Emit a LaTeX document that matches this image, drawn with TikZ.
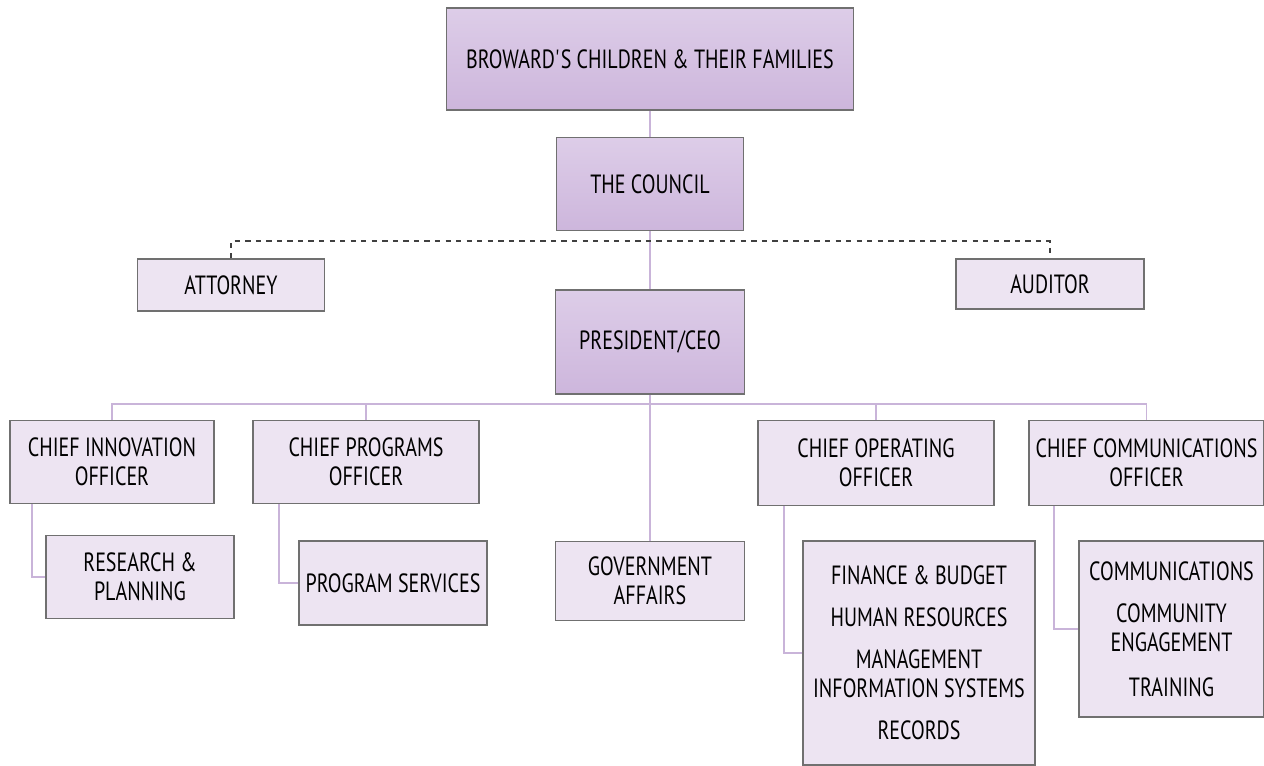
\documentclass[tikz,border=0pt]{standalone}
\usepackage{fontspec}
\setmainfont{PT Sans}[FakeStretch=0.76]
\usetikzlibrary{positioning}

\definecolor{boxline}{HTML}{707070}
\definecolor{boxfill}{HTML}{EDE4F2}
\definecolor{headtop}{HTML}{DDCDE8}
\definecolor{headbot}{HTML}{CDB6DC}
\definecolor{linkcol}{HTML}{C9B4D9}
\definecolor{dashcol}{HTML}{404040}

\tikzstyle{s} = [rectangle, draw=boxline, line width=0.7pt, fill=boxfill, text centered, align=center, inner sep=1pt, font=\fontsize{15}{16.5}\selectfont]
\tikzstyle{head} = [s, top color=headtop, bottom color=headbot]
\tikzstyle{link} = [draw=linkcol, line width=0.9pt]

\begin{document}
\begin{tikzpicture}[x=0.02cm, y=-0.02cm]
\useasboundingbox (0,0) rectangle (1264,766);

\node[head, minimum width=8.14cm, minimum height=2.04cm] (Families) at (650,59) {BROWARD\textquotesingle S CHILDREN \& THEIR FAMILIES};
\node[head, minimum width=3.74cm, minimum height=1.86cm] (Council) at (650,184) {THE COUNCIL};
\node[s, minimum width=3.74cm, minimum height=1.04cm] (Attorney) at (231,285) {ATTORNEY};
\node[s, minimum width=3.76cm, minimum height=1.0cm] (Auditor) at (1050,284) {AUDITOR};
\node[head, minimum width=3.78cm, minimum height=2.08cm] (CEO) at (650,342) {PRESIDENT/CEO};

\node[s, minimum width=4.08cm, minimum height=1.66cm] (CIO) at (112,462) {CHIEF INNOVATION\\OFFICER};
\node[s, minimum width=4.52cm, minimum height=1.66cm] (CPO) at (366,462) {CHIEF PROGRAMS\\OFFICER};
\node[s, minimum width=4.72cm, minimum height=1.70cm] (COO) at (876,463) {CHIEF OPERATING\\OFFICER};
\node[s, minimum width=4.70cm, minimum height=1.70cm] (CCO) at (1146.5,463) {CHIEF COMMUNICATIONS\\OFFICER};

\node[s, minimum width=3.76cm, minimum height=1.66cm] (Research) at (140,577) {RESEARCH \&\\PLANNING};
\node[s, minimum width=3.76cm, minimum height=1.68cm] (Programs) at (393,583) {PROGRAM SERVICES};
\node[s, minimum width=3.78cm, minimum height=1.58cm] (Gov) at (650,581) {GOVERNMENT\\AFFAIRS};
\node[s, minimum width=4.64cm, minimum height=4.48cm] (Operations) at (919,653)
  {FINANCE \& BUDGET\\[7.5pt] HUMAN RESOURCES\\[7.5pt] MANAGEMENT\\INFORMATION SYSTEMS\\[7.5pt] RECORDS};
\node[s, minimum width=3.70cm, minimum height=3.52cm] (Comms) at (1171.5,629)
  {COMMUNICATIONS\\[7.5pt] COMMUNITY\\ENGAGEMENT\\[9pt] TRAINING};

\coordinate (advisors) at (650,241);
\coordinate (bus) at (650,404);

% reporting lines
\path[link]
  (Families) edge (Council)
  (Council) edge (CEO)
  (CEO) edge (Gov);
\draw[dashed, draw=dashcol, line width=0.7pt] (Attorney.north) |- (advisors) -| (Auditor.north);
\draw[link] (CIO.north) |- (bus) -| (CCO.north);
\draw[link] (CPO.north) |- (bus);
\draw[link] (COO.north) |- (bus);
\draw[link] ([xshift=-1.6cm]CIO.south) |- (Research.west);
\draw[link] ([xshift=-1.74cm]CPO.south) |- (Programs.west);
\draw[link] ([xshift=-1.84cm]COO.south) |- (Operations.west);
\draw[link] ([xshift=-1.85cm]CCO.south) |- (Comms.west);

\end{tikzpicture}
\end{document}
